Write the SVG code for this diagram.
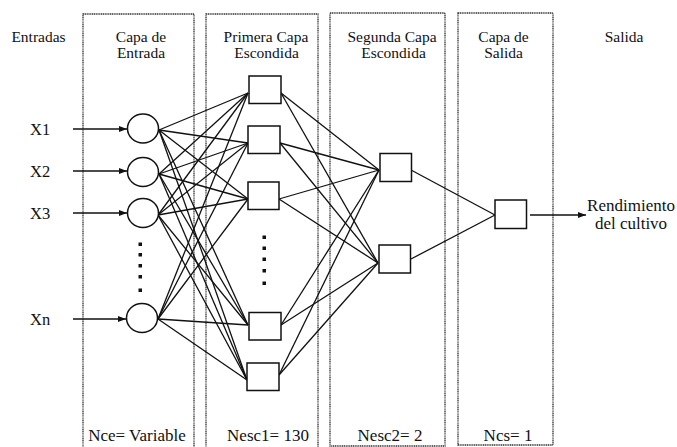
<svg xmlns="http://www.w3.org/2000/svg" width="677" height="447" viewBox="0 0 677 447">
<style>
.t{fill:#111;text-anchor:middle}
.h{font-size:15.5px}
.x{font-size:16.5px;text-anchor:start}
.b{font-size:17px}
.layer{fill:none;stroke:#333;stroke-width:1.3;stroke-dasharray:1.2 0.6}
.node{fill:#fff;stroke:#111;stroke-width:1.5}
.c line{stroke:#111;stroke-width:1.3}
.dot{fill:#111}
</style>
<defs>
<marker id="ah" viewBox="0 0 8 6" refX="8" refY="3" markerWidth="8" markerHeight="6" markerUnits="userSpaceOnUse" orient="auto">
<path d="M0,0 L8,3 L0,6 Z" fill="#111"/>
</marker>
</defs>
<rect width="677" height="447" fill="#fff"/>

<g id="layers">
<rect class="layer" x="83" y="14" width="111" height="440"/>
<rect class="layer" x="206" y="14" width="112" height="440"/>
<rect class="layer" x="330" y="13" width="115" height="433"/>
<rect class="layer" x="458" y="13" width="95" height="432"/>
</g>

<g id="labels" font-family="'Liberation Serif', 'Times New Roman', 'DejaVu Serif', serif">
<text class="t h" x="38.5" y="42">Entradas</text>
<text class="t h" x="141" y="42">Capa de</text>
<text class="t h" x="141" y="58">Entrada</text>
<text class="t h" x="266" y="42">Primera Capa</text>
<text class="t h" x="266.5" y="58">Escondida</text>
<text class="t h" x="392" y="42">Segunda Capa</text>
<text class="t h" x="393.5" y="58">Escondida</text>
<text class="t h" x="503.5" y="42">Capa de</text>
<text class="t h" x="503.5" y="58">Salida</text>
<text class="t h" x="624" y="42">Salida</text>
<text class="t x" x="30" y="135">X1</text>
<text class="t x" x="30" y="177">X2</text>
<text class="t x" x="30" y="219">X3</text>
<text class="t x" x="30" y="325">Xn</text>
<text class="t b" x="631" y="211">Rendimiento</text>
<text class="t b" x="631" y="229">del cultivo</text>
<text class="t b" x="137" y="441">Nce= Variable</text>
<text class="t b" x="268" y="441">Nesc1= 130</text>
<text class="t b" x="390" y="441">Nesc2= 2</text>
<text class="t b" x="508" y="441">Ncs= 1</text>
</g>

<g id="connectors" class="c">
<line x1="73" y1="129" x2="127" y2="129" marker-end="url(#ah)"/>
<line x1="73" y1="171" x2="127" y2="171" marker-end="url(#ah)"/>
<line x1="73" y1="213" x2="127" y2="213" marker-end="url(#ah)"/>
<line x1="73" y1="319" x2="126" y2="319" marker-end="url(#ah)"/>
<line x1="530" y1="215" x2="586" y2="215" marker-end="url(#ah)"/>
<line x1="159" y1="130" x2="248" y2="93"/>
<line x1="159" y1="130" x2="248" y2="143"/>
<line x1="159" y1="130" x2="248" y2="199"/>
<line x1="159" y1="130" x2="248" y2="325"/>
<line x1="159" y1="130" x2="247" y2="380"/>
<line x1="159" y1="174" x2="248" y2="93"/>
<line x1="159" y1="174" x2="248" y2="143"/>
<line x1="159" y1="174" x2="248" y2="199"/>
<line x1="159" y1="174" x2="248" y2="325"/>
<line x1="159" y1="174" x2="247" y2="380"/>
<line x1="158" y1="215" x2="248" y2="93"/>
<line x1="158" y1="215" x2="248" y2="143"/>
<line x1="158" y1="215" x2="248" y2="199"/>
<line x1="158" y1="215" x2="248" y2="325"/>
<line x1="158" y1="215" x2="247" y2="380"/>
<line x1="158" y1="319" x2="248" y2="93"/>
<line x1="158" y1="319" x2="248" y2="143"/>
<line x1="158" y1="319" x2="248" y2="199"/>
<line x1="158" y1="319" x2="248" y2="325"/>
<line x1="158" y1="319" x2="247" y2="380"/>
<line x1="281" y1="93" x2="379" y2="170"/>
<line x1="281" y1="93" x2="378" y2="263"/>
<line x1="280" y1="143" x2="379" y2="170"/>
<line x1="280" y1="143" x2="378" y2="263"/>
<line x1="279" y1="199" x2="379" y2="170"/>
<line x1="279" y1="199" x2="378" y2="263"/>
<line x1="281" y1="325" x2="379" y2="170"/>
<line x1="281" y1="325" x2="378" y2="263"/>
<line x1="279" y1="375" x2="379" y2="170"/>
<line x1="279" y1="375" x2="378" y2="263"/>
<line x1="411" y1="170" x2="495" y2="215"/>
<line x1="411" y1="259" x2="495" y2="215"/>
</g>

<g id="in1"><ellipse class="node" cx="143" cy="128.5" rx="15.5" ry="14.5"/></g>
<g id="in2"><ellipse class="node" cx="143" cy="172" rx="15.5" ry="14.5"/></g>
<g id="in3"><ellipse class="node" cx="143" cy="213" rx="15.5" ry="14.5"/></g>
<g id="inn"><ellipse class="node" cx="142" cy="318" rx="15.5" ry="14.5"/></g>
<g id="in-dots">
<rect class="dot" x="138.5" y="242.5" width="3.5" height="3.5"/>
<rect class="dot" x="138.5" y="253" width="3.5" height="3.5"/>
<rect class="dot" x="138.5" y="264" width="3.5" height="3.5"/>
<rect class="dot" x="138.5" y="275" width="3.5" height="3.5"/>
<rect class="dot" x="138.5" y="288.5" width="3.5" height="3.5"/>
</g>

<g id="h1a"><rect class="node" x="249" y="76" width="32" height="27.5"/></g>
<g id="h1b"><rect class="node" x="248" y="126" width="32" height="27.5"/></g>
<g id="h1c"><rect class="node" x="248" y="182" width="31" height="27.5"/></g>
<g id="h1d"><rect class="node" x="249" y="312.5" width="32" height="27.5"/></g>
<g id="h1e"><rect class="node" x="247" y="363" width="32" height="27.5"/></g>
<g id="h1-dots">
<rect class="dot" x="262.5" y="235.5" width="3.5" height="3.5"/>
<rect class="dot" x="262.5" y="246.5" width="3.5" height="3.5"/>
<rect class="dot" x="262.5" y="257.5" width="3.5" height="3.5"/>
<rect class="dot" x="262.5" y="269" width="3.5" height="3.5"/>
<rect class="dot" x="262.5" y="281.5" width="3.5" height="3.5"/>
</g>

<g id="h2a"><rect class="node" x="380" y="153.5" width="31.5" height="28"/></g>
<g id="h2b"><rect class="node" x="379" y="245" width="31.5" height="28"/></g>

<g id="out"><rect class="node" x="495" y="200" width="31.5" height="28.5"/></g>
</svg>
